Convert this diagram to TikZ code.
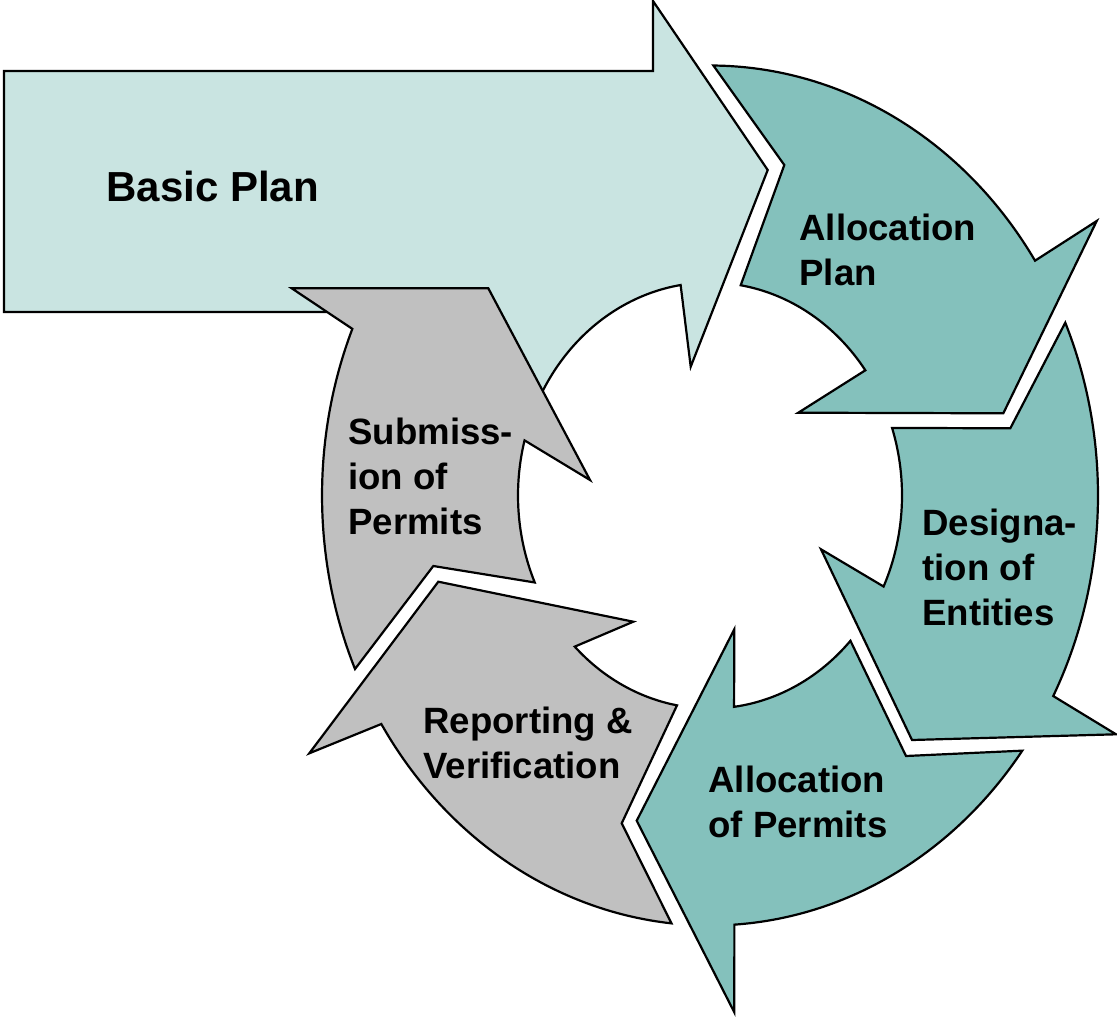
\documentclass[tikz,border=0pt]{standalone}
\usepackage{fontspec}
\setmainfont{Liberation Sans}
\usetikzlibrary{calc}
\definecolor{planlight}{RGB}{201,228,225}
\definecolor{cycleteal}{RGB}{132,193,188}
\definecolor{cyclegray}{RGB}{192,192,192}

\begin{document}
\begin{tikzpicture}[x=0.5pt,y=-0.5pt,
  outline/.style={draw=black,line width=1.1pt,line join=miter},
  lbl/.style={font=\bfseries\fontsize{18.3}{22.5}\selectfont,align=left,anchor=base west,inner sep=0pt}]
\useasboundingbox (0,0) rectangle (1117,1016);
\coordinate (c) at (710,495.5);

% basic plan arrow, its lower end goes under the gray arrow
\filldraw[outline,fill=planlight] (4,71) -- (653,71) -- (653,1) -- (767.7,170) -- (690.7,366.7)
  -- ($(c)+(261.2:192 and 213)$) arc[start angle=261.2,end angle=200,x radius=192,y radius=213]
  -- (460,312) -- (4,312) -- cycle;

% the five curved arrows: outer arc, head, inner arc, tail notch
\foreach \os/\oe/\barb/\tip/\ibarb/\is/\ie/\tail/\col in {
  -89.5/-33.1/{(1096.7,221)}/{(1003.3,413.3)}/{(798.3,412.7)}/-36/-80.8/{(784.3,165)}/cycleteal,
  -23.7/27.8/{(1116,734.3)}/{(912,740)}/{(821,549.3)}/25.3/-18.5/{(1010.3,428.3)}/cycleteal,
  36.4/86.4/{(734.3,1012.3)}/{(636.7,820.7)}/{(734.3,629.3)}/82.8/43/{(906,756)}/cycleteal,
  95.7/147.9/{(309.3,753.3)}/{(438.3,581.7)}/{(633.3,621.7)}/134.8/99.9/{(621.7,823.3)}/cyclegray,
  156.2/202.8/{(291.7,288.3)}/{(488.3,288.3)}/{(590,480)}/195/155.9/{(433.3,566)}/cyclegray}
  \filldraw[outline,fill=\col] ($(c)+(\os:388 and 430)$)
    arc[start angle=\os,end angle=\oe,x radius=388,y radius=430]
    -- \barb -- \tip -- \ibarb -- ($(c)+(\is:192 and 213)$)
    arc[start angle=\is,end angle=\ie,x radius=192,y radius=213]
    -- \tail -- cycle;

% labels, placed at the baseline of their last line
\node[lbl,font=\bfseries\fontsize{21}{25}\selectfont] (basic) at (106,202) {Basic Plan};
\node[lbl] (allocplan) at (799,285) {Allocation\\Plan};
\node[lbl] (design) at (922,625) {Designa-\\tion of\\Entities};
\node[lbl] (allocperm) at (708,837.7) {Allocation\\of Permits};
\node[lbl] (report) at (423,778) {Reporting \&\\Verification};
\node[lbl] (submit) at (348,534) {Submiss-\\ion of\\Permits};
\end{tikzpicture}
\end{document}
